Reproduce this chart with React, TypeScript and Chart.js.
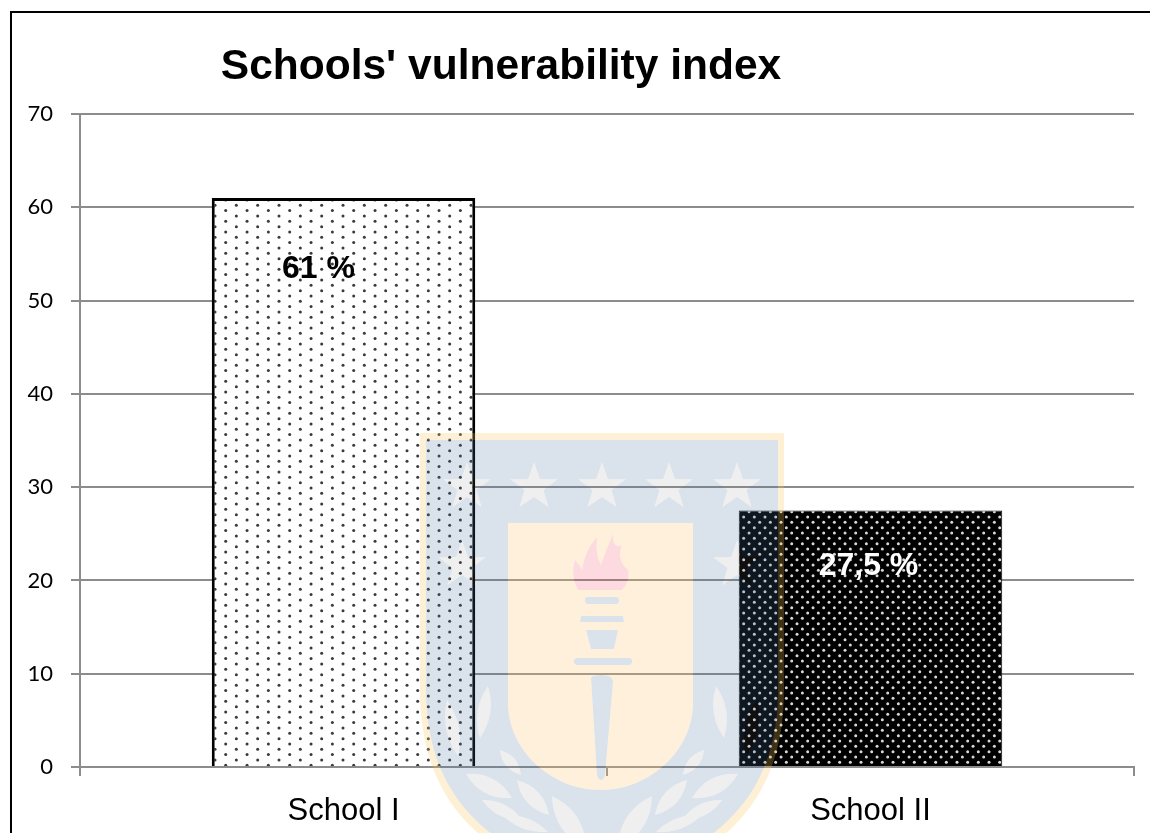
import React, { useEffect, useRef } from "react";
import { Chart, registerables } from "chart.js";

Chart.register(...registerables);

const chartTitle = "Schools' vulnerability index";
const schools = ["School I", "School II"];
const vulnerability = [61, 27.5];
const axisMax = 70;
const axisStep = 10;

const SANS = '"Liberation Sans", Arial, sans-serif';
const AXIS_GREY = "#8c8c8c";

// Dotted fills: a square tile holding a staggered pair of dots per period.
function dottedFill(
  ground: string,
  dot: string,
  radius: number,
  periodX: number,
  periodY: number,
  ax: number,
  ay: number,
  bx: number,
  by: number
) {
  const size = 64;
  const tile = document.createElement("canvas");
  tile.width = size;
  tile.height = size;
  const c = tile.getContext("2d")!;
  c.fillStyle = ground;
  c.fillRect(0, 0, size, size);
  c.fillStyle = dot;
  for (const [ox, oy] of [[ax, ay], [bx, by]]) {
    const sx = ((ox % periodX) + periodX) % periodX;
    const sy = ((oy % periodY) + periodY) % periodY;
    for (let x = sx - periodX; x < size + periodX; x += periodX) {
      for (let y = sy - periodY; y < size + periodY; y += periodY) {
        c.beginPath();
        c.arc(x, y, radius, 0, Math.PI * 2);
        c.fill();
      }
    }
  }
  return c.createPattern(tile, "repeat")!;
}

// Value captions sit inside each bar, a little off its centre line.
const captionShift = [
  { dx: -25, dy: 71, color: "#000000" },
  { dx: -2, dy: 56, color: "#ffffff" },
];

const sheetFrame = {
  id: "sheetFrame",
  beforeDraw(chart: Chart) {
    const { ctx, width, height } = chart;
    ctx.save();
    ctx.fillStyle = "#ffffff";
    ctx.fillRect(0, 0, width, height);
    ctx.fillStyle = "#000000";
    ctx.fillRect(10, 11, 2, height - 11);
    ctx.fillRect(10, 11, width - 10, 2);
    ctx.restore();
  },
};

const captions = {
  id: "captions",
  afterDraw(chart: Chart) {
    const { ctx } = chart;
    ctx.save();
    ctx.textBaseline = "middle";
    ctx.textAlign = "center";
    ctx.fillStyle = "#000000";
    ctx.font = `bold 42.5px ${SANS}`;
    ctx.fillText(chartTitle, 501, 67);
    ctx.font = `bold 32px ${SANS}`;
    chart.getDatasetMeta(0).data.forEach((bar, i) => {
      const text = `${String(vulnerability[i]).replace(".", ",")} %`;
      ctx.fillStyle = captionShift[i].color;
      ctx.fillText(text, bar.x + captionShift[i].dx, bar.y + captionShift[i].dy);
    });
    ctx.restore();
  },
};

function starPath(cx: number, cy: number, r: number) {
  const pts: string[] = [];
  for (let i = 0; i < 10; i++) {
    const rad = i % 2 === 0 ? r : r * 0.4;
    const a = -Math.PI / 2 + (i * Math.PI) / 5;
    pts.push(`${(cx + rad * Math.cos(a)).toFixed(1)},${(cy + rad * Math.sin(a)).toFixed(1)}`);
  }
  return `M${pts.join("L")}Z`;
}

function leafPath([x1, y1, x2, y2, bulge]: number[]) {
  const mx = (x1 + x2) / 2;
  const my = (y1 + y2) / 2;
  const dx = x2 - x1;
  const dy = y2 - y1;
  const len = Math.hypot(dx, dy);
  const nx = (-dy / len) * bulge;
  const ny = (dx / len) * bulge;
  return `M${x1},${y1}Q${mx + nx},${my + ny} ${x2},${y2}Q${mx - nx},${my - ny} ${x1},${y1}Z`;
}

const MIRROR = 1204;
const crestStars = [
  [467, 487],
  [534, 487],
  [602, 487],
  [669, 487],
  [737, 487],
  [462, 565],
  [737, 565],
];
const crestLeaves = [
  [488, 686, 480, 738, 13],
  [447, 700, 458, 756, 13],
  [512, 798, 466, 774, 16],
  [521, 775, 500, 750, 11],
  [549, 815, 517, 780, 15],
  [522, 820, 482, 800, 12],
  [548, 832, 502, 815, 11],
  [586, 848, 552, 796, 19],
];

const TORCH =
  "M585,600 Q585,597 588,597 H616 Q619,597 619,600 Q619,604 616,604 H588 Q585,604 585,600Z" +
  "M581,616 H623 L624,622 H580Z" +
  "M586,630 H618 L614,649 H591Z" +
  "M574,661 Q574,658 577,658 H629 Q632,658 632,661 Q632,665 629,665 H577 Q574,665 574,661Z" +
  "M591,678 Q591,675 602,675 Q613,675 613,682 L605,775 Q604,780 601,780 Q598,780 597,775Z";
const FLAME =
  "M578,590 Q570,575 575,560 Q580,565 582,570 Q585,550 597,537 Q595,555 601,565 Q606,550 613,534 Q612,550 622,545 Q616,560 628,570 Q630,582 622,590Z";
const SHIELD_INNER = "M508,523 H693 V703 C693,750 650,790 600.5,790 C551,790 508,750 508,703Z";
const SHIELD_FIELD = "M426,440 H778 V690 C778,790 722,856 602,878 C482,856 426,790 426,690Z";
const SHIELD_RIM = "M420,433 H784 V690 C784,795 728,864 602,886 C476,864 420,795 420,690Z";

function Crest() {
  const stars = crestStars.map(([x, y]) => starPath(x, y, 25)).join("");
  const leaves = crestLeaves
    .flatMap((l) => [l, [MIRROR - l[0], l[1], MIRROR - l[2], l[3], l[4]]])
    .map(leafPath)
    .join("");
  return (
    <svg
      width={1150}
      height={833}
      style={{ position: "absolute", left: 0, top: 0, pointerEvents: "none" }}
    >
      <defs>
        <mask id="fieldMask" maskUnits="userSpaceOnUse" x="0" y="0" width="1150" height="833">
          <rect width="1150" height="833" fill="#fff" />
          <path d={SHIELD_INNER} fill="#000" />
          <path d={stars} fill="#000" />
          <path d={leaves} fill="#000" />
          <path d={TORCH} fill="#fff" />
        </mask>
        <mask id="innerMask" maskUnits="userSpaceOnUse" x="0" y="0" width="1150" height="833">
          <rect width="1150" height="833" fill="#fff" />
          <path d={TORCH} fill="#000" />
          <path d={FLAME} fill="#000" />
        </mask>
        <mask id="rimMask" maskUnits="userSpaceOnUse" x="0" y="0" width="1150" height="833">
          <rect width="1150" height="833" fill="#fff" />
          <path d={SHIELD_FIELD} fill="#000" />
        </mask>
      </defs>
      <path d={SHIELD_RIM} fill="rgba(248,196,88,0.25)" mask="url(#rimMask)" />
      <path d={SHIELD_FIELD} fill="rgba(70,110,160,0.2)" mask="url(#fieldMask)" />
      <path d={SHIELD_INNER} fill="rgba(252,196,110,0.25)" mask="url(#innerMask)" />
      <path d={FLAME} fill="rgba(240,70,100,0.2)" />
      <path d={stars} fill="rgba(120,120,120,0.12)" />
      <path d={leaves} fill="rgba(120,120,120,0.12)" />
    </svg>
  );
}

export default function App() {
  const canvasRef = useRef<HTMLCanvasElement>(null);

  useEffect(() => {
    const sparse = dottedFill("#ffffff", "#3a3a3a", 1.5, 64 / 3, 64 / 6, 215, 205.3, 225.7, 210.6);
    const dense = dottedFill("#000000", "#d8d8d8", 1.5, 64 / 6, 64 / 6, 951.7, 511.7, 957, 517);

    const chart = new Chart(canvasRef.current!, {
      type: "bar",
      data: {
        labels: schools,
        datasets: [
          {
            data: vulnerability,
            backgroundColor: [sparse, dense],
            borderColor: ["#000000", "#1a1a1a"],
            borderWidth: [3, 1],
            borderSkipped: "bottom",
            categoryPercentage: 1,
            barPercentage: 0.5,
          },
        ],
      },
      options: {
        animation: false,
        responsive: false,
        devicePixelRatio: 1,
        layout: { padding: { top: 114, right: 16, left: 0, bottom: 0 } },
        plugins: {
          legend: { display: false },
          title: { display: false },
          tooltip: { enabled: false },
        },
        scales: {
          x: {
            afterFit(scale) {
              scale.height = 66;
            },
            grid: {
              drawOnChartArea: false,
              color: AXIS_GREY,
              lineWidth: 2,
              tickLength: 9,
            },
            border: { color: AXIS_GREY, width: 2, z: 1 },
            ticks: {
              color: "#000000",
              padding: 17,
              font: { family: SANS, size: 31 },
              maxRotation: 0,
            },
          },
          y: {
            min: 0,
            max: axisMax,
            afterFit(scale) {
              scale.width = 80;
            },
            grid: { color: AXIS_GREY, lineWidth: 2, tickLength: 9 },
            border: { color: AXIS_GREY, width: 2 },
            ticks: {
              stepSize: axisStep,
              color: "#000000",
              padding: 18,
              font: { family: "Lato", size: 22 },
            },
          },
        },
      },
      plugins: [sheetFrame, captions],
    });
    return () => chart.destroy();
  }, []);

  return (
    <div style={{ position: "absolute", left: 0, top: 0, width: 1150, height: 833, overflow: "hidden" }}>
      <canvas ref={canvasRef} width={1150} height={833} style={{ display: "block" }} />
      <Crest />
    </div>
  );
}
